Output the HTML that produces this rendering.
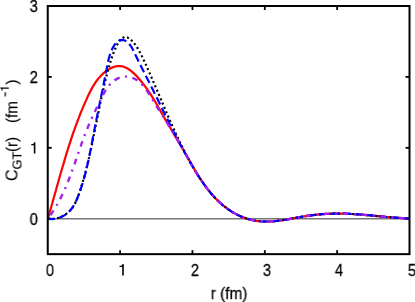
<!DOCTYPE html>
<html><head><meta charset="utf-8"><style>
html,body{margin:0;padding:0;background:#fff;}
body{width:415px;height:302px;position:relative;overflow:hidden;font-family:"Liberation Sans",sans-serif;}
.t{-webkit-text-stroke:0.3px #000;will-change:transform;position:absolute;font-size:16px;line-height:18px;color:#000;white-space:nowrap;}
.n{transform:scaleX(0.9);}
.yl{-webkit-text-stroke:0.15px #000;left:17.5px;top:181px;transform-origin:0 0;transform:rotate(-90deg) translate(0,-14.5px);line-height:18px;}
.sp{display:inline-block;}
.sc{display:inline-block;transform:scaleX(0.95);transform-origin:0 50%;}
.sub{font-size:12.8px;position:relative;top:4px;}
.sup{font-size:12.8px;position:relative;top:-8.9px;}
</style></head><body>
<svg width="415" height="302" viewBox="0 0 415 302" style="position:absolute;left:0;top:0">
<line x1="47.75" y1="218.75" x2="409.5" y2="218.75" stroke="#777" stroke-width="1.3"/>
<line x1="120.10" y1="254.15" x2="120.10" y2="250.15" stroke="#000" stroke-width="1.8"/>
<line x1="120.10" y1="6.0" x2="120.10" y2="10.0" stroke="#000" stroke-width="1.8"/>
<line x1="192.45" y1="254.15" x2="192.45" y2="250.15" stroke="#000" stroke-width="1.8"/>
<line x1="192.45" y1="6.0" x2="192.45" y2="10.0" stroke="#000" stroke-width="1.8"/>
<line x1="264.80" y1="254.15" x2="264.80" y2="250.15" stroke="#000" stroke-width="1.8"/>
<line x1="264.80" y1="6.0" x2="264.80" y2="10.0" stroke="#000" stroke-width="1.8"/>
<line x1="337.15" y1="254.15" x2="337.15" y2="250.15" stroke="#000" stroke-width="1.8"/>
<line x1="337.15" y1="6.0" x2="337.15" y2="10.0" stroke="#000" stroke-width="1.8"/>
<line x1="47.75" y1="218.70" x2="51.75" y2="218.70" stroke="#000" stroke-width="1.8"/>
<line x1="409.5" y1="218.70" x2="405.5" y2="218.70" stroke="#000" stroke-width="1.8"/>
<line x1="47.75" y1="147.80" x2="51.75" y2="147.80" stroke="#000" stroke-width="1.8"/>
<line x1="409.5" y1="147.80" x2="405.5" y2="147.80" stroke="#000" stroke-width="1.8"/>
<line x1="47.75" y1="76.90" x2="51.75" y2="76.90" stroke="#000" stroke-width="1.8"/>
<line x1="409.5" y1="76.90" x2="405.5" y2="76.90" stroke="#000" stroke-width="1.8"/>
<path d="M47.7,218.7 L48.7,215.6 L49.6,212.5 L50.5,209.4 L51.4,206.3 L52.3,203.2 L53.1,200.1 L54.0,197.0 L54.9,193.9 L55.8,190.8 L56.6,187.7 L57.5,184.6 L58.4,181.5 L59.2,178.5 L60.1,175.4 L61.0,172.3 L61.9,169.2 L62.8,166.2 L63.7,163.1 L64.6,160.1 L65.5,157.0 L66.4,153.9 L67.4,150.9 L68.3,147.8 L69.3,144.8 L70.3,141.8 L71.3,138.7 L72.3,135.7 L73.3,132.7 L74.4,129.6 L75.5,126.6 L76.6,123.6 L77.7,120.6 L78.9,117.6 L80.0,114.6 L81.2,111.6 L82.5,108.6 L83.7,105.6 L85.0,102.6 L86.4,99.6 L87.7,96.6 L89.1,93.7 L90.6,90.8 L92.1,87.9 L93.8,85.1 L95.5,82.4 L97.4,79.8 L99.4,77.4 L101.6,75.0 L103.9,72.9 L106.4,70.9 L109.1,69.1 L112.0,67.6 L114.9,66.5 L117.9,66.0 L120.8,66.1 L123.7,66.8 L126.6,68.0 L129.3,69.6 L131.9,71.6 L134.4,73.9 L136.8,76.3 L139.1,78.9 L141.3,81.5 L143.4,84.2 L145.4,86.8 L147.3,89.4 L149.1,92.1 L150.8,94.7 L152.5,97.4 L154.2,100.1 L155.8,102.8 L157.4,105.5 L158.9,108.2 L160.5,110.9 L162.0,113.6 L163.6,116.3 L165.1,119.1 L166.7,121.8 L168.3,124.5 L169.9,127.3 L171.6,130.0 L173.2,132.8 L174.8,135.6 L176.5,138.4 L178.1,141.1 L179.8,143.9 L181.4,146.7 L183.1,149.5 L184.7,152.3 L186.4,155.2 L188.0,158.1 L189.7,161.0 L191.3,163.9 L192.9,166.8 L194.6,169.6 L196.2,172.4 L197.9,175.2 L199.6,177.8 L201.4,180.5 L203.2,183.1 L205.0,185.6 L206.8,188.1 L208.8,190.6 L210.8,193.0 L212.8,195.4 L214.9,197.8 L217.1,200.0 L219.4,202.2 L221.8,204.4 L224.3,206.4 L226.9,208.4 L229.5,210.2 L232.3,212.0 L235.1,213.6 L237.9,215.1 L240.9,216.4 L243.8,217.6 L246.9,218.6 L249.9,219.5 L253.0,220.2 L256.1,220.8 L259.3,221.2 L262.4,221.4 L265.6,221.5 L268.8,221.5 L271.9,221.3 L275.1,221.1 L278.3,220.7 L281.5,220.3 L284.7,219.8 L287.8,219.3 L291.0,218.7 L294.2,218.1 L297.4,217.6 L300.6,217.0 L303.8,216.4 L307.0,215.9 L310.2,215.5 L313.4,215.1 L316.6,214.7 L319.8,214.4 L323.0,214.1 L326.2,213.9 L329.4,213.8 L332.6,213.6 L335.8,213.6 L339.0,213.6 L342.2,213.6 L345.4,213.7 L348.6,213.8 L351.8,214.0 L355.0,214.2 L358.2,214.4 L361.4,214.6 L364.6,214.9 L367.8,215.2 L371.0,215.5 L374.2,215.8 L377.4,216.1 L380.6,216.4 L383.8,216.7 L387.1,217.0 L390.3,217.2 L393.5,217.5 L396.7,217.7 L399.9,218.0 L403.1,218.1 L406.3,218.3 L409.5,218.4" fill="none" stroke="#ff0000" stroke-width="2.2"/>
<path d="M47.7,218.7 L51.4,218.9 L55.0,218.6 L58.4,217.8 L61.7,216.6 L64.8,214.9 L67.6,212.9 L70.1,210.5 L72.3,207.9 L74.2,205.0 L75.8,201.9 L77.3,198.7 L78.5,195.4 L79.7,192.0 L80.8,188.5 L81.8,185.1 L82.8,181.6 L83.8,178.2 L84.8,174.7 L85.7,171.3 L86.6,167.8 L87.4,164.4 L88.2,160.9 L89.1,157.5 L89.8,154.0 L90.6,150.5 L91.4,147.1 L92.1,143.6 L92.8,140.2 L93.5,136.7 L94.2,133.3 L94.9,129.8 L95.6,126.3 L96.3,122.9 L97.0,119.4 L97.7,116.0 L98.4,112.5 L99.1,109.1 L99.8,105.6 L100.5,102.2 L101.2,98.7 L102.0,95.3 L102.7,91.8 L103.5,88.4 L104.3,85.0 L105.1,81.5 L105.9,78.1 L106.8,74.7 L107.7,71.2 L108.7,67.8 L109.7,64.4 L110.7,61.0 L111.8,57.6 L113.0,54.2 L114.3,50.8 L115.8,47.4 L117.5,44.1 L119.4,41.0 L121.7,38.4 L124.4,37.1 L127.4,37.5 L130.3,39.2 L132.9,41.7 L135.2,44.7 L137.3,47.7 L139.1,50.8 L140.8,53.9 L142.3,57.0 L143.8,60.2 L145.3,63.3 L146.7,66.5 L148.1,69.7 L149.5,72.9 L150.9,76.1 L152.3,79.3 L153.7,82.6 L155.1,85.8 L156.5,89.1 L157.9,92.3 L159.3,95.6 L160.7,98.9 L162.1,102.2 L163.5,105.5 L164.9,108.8 L166.3,112.1 L167.7,115.3 L169.1,118.6 L170.5,121.9 L172.0,125.2 L173.5,128.5 L175.0,131.8 L176.5,135.0 L178.0,138.2 L179.5,141.5 L181.1,144.7 L182.7,147.9 L184.3,151.1 L185.9,154.3 L187.6,157.4 L189.3,160.5 L191.0,163.6 L192.8,166.6 L194.6,169.7 L196.4,172.7 L198.3,175.7 L200.2,178.7 L202.1,181.6 L204.2,184.5 L206.2,187.3 L208.4,190.1 L210.6,192.9 L212.9,195.5 L215.3,198.1 L217.8,200.6 L220.3,203.0 L223.0,205.4 L225.8,207.5 L228.6,209.6 L231.6,211.5 L234.6,213.3 L237.7,214.9 L240.9,216.4 L244.1,217.7 L247.5,218.8 L250.8,219.8 L254.3,220.5 L257.7,221.0 L261.2,221.3 L264.8,221.5 L268.3,221.5 L271.8,221.3 L275.4,221.0 L278.9,220.6 L282.4,220.2 L285.9,219.6 L289.5,219.0 L293.0,218.4 L296.5,217.7 L300.0,217.1 L303.6,216.5 L307.1,215.9 L310.6,215.4 L314.1,215.0 L317.7,214.6 L321.2,214.3 L324.7,214.0 L328.2,213.8 L331.8,213.7 L335.3,213.6 L338.8,213.6 L342.3,213.6 L345.8,213.7 L349.4,213.9 L352.9,214.0 L356.4,214.3 L360.0,214.5 L363.5,214.8 L367.0,215.1 L370.5,215.4 L374.1,215.8 L377.6,216.1 L381.2,216.4 L384.7,216.8 L388.2,217.1 L391.8,217.4 L395.3,217.6 L398.9,217.9 L402.4,218.1 L405.9,218.3 L409.5,218.4" fill="none" stroke="#000" stroke-width="2.2" stroke-dasharray="2 2.7"/>
<path d="M47.7,218.7 L51.3,219.1 L54.9,218.8 L58.4,218.1 L61.7,216.8 L64.8,215.1 L67.6,213.0 L70.0,210.7 L72.1,208.0 L74.0,205.1 L75.6,202.0 L77.1,198.7 L78.4,195.4 L79.7,192.1 L80.8,188.7 L81.9,185.4 L83.0,182.0 L84.0,178.6 L84.9,175.2 L85.8,171.9 L86.6,168.5 L87.4,165.0 L88.2,161.6 L88.9,158.2 L89.6,154.8 L90.3,151.3 L91.0,147.9 L91.6,144.4 L92.3,141.0 L92.9,137.5 L93.6,134.1 L94.3,130.6 L94.9,127.2 L95.6,123.7 L96.3,120.2 L97.0,116.8 L97.7,113.3 L98.4,109.8 L99.1,106.4 L99.8,102.9 L100.5,99.5 L101.2,96.0 L102.0,92.6 L102.7,89.1 L103.4,85.7 L104.0,82.2 L104.7,78.8 L105.4,75.4 L106.0,72.0 L106.7,68.6 L107.3,65.2 L108.0,61.7 L108.9,58.3 L109.9,54.8 L111.2,51.2 L112.8,47.8 L114.7,44.6 L116.9,42.0 L119.5,40.4 L122.4,39.9 L125.4,40.8 L128.1,42.7 L130.3,45.2 L132.2,48.3 L133.9,51.6 L135.5,55.0 L137.1,58.2 L138.6,61.5 L140.2,64.7 L141.8,67.8 L143.4,71.0 L145.0,74.1 L146.5,77.2 L148.1,80.3 L149.7,83.4 L151.2,86.5 L152.8,89.6 L154.3,92.7 L155.9,95.9 L157.5,99.0 L159.0,102.2 L160.6,105.3 L162.1,108.5 L163.7,111.7 L165.2,114.9 L166.8,118.0 L168.4,121.2 L170.0,124.4 L171.6,127.5 L173.2,130.7 L174.8,133.8 L176.4,137.0 L178.0,140.1 L179.6,143.2 L181.3,146.4 L182.9,149.5 L184.6,152.5 L186.3,155.5 L188.0,158.6 L189.8,161.6 L191.6,164.6 L193.4,167.7 L195.2,170.8 L197.1,173.9 L199.0,176.9 L201.0,179.9 L203.1,182.9 L205.1,185.8 L207.3,188.7 L209.5,191.5 L211.8,194.2 L214.1,196.8 L216.5,199.4 L219.0,201.8 L221.5,204.1 L224.2,206.3 L226.9,208.4 L229.7,210.3 L232.6,212.2 L235.6,213.9 L238.7,215.4 L241.8,216.8 L245.1,218.0 L248.4,219.1 L251.7,220.0 L255.1,220.6 L258.6,221.1 L262.0,221.4 L265.5,221.5 L269.1,221.4 L272.6,221.3 L276.2,221.0 L279.7,220.5 L283.3,220.0 L286.8,219.5 L290.3,218.8 L293.9,218.2 L297.4,217.6 L300.9,216.9 L304.4,216.3 L307.9,215.8 L311.4,215.3 L314.9,214.9 L318.4,214.5 L321.9,214.2 L325.4,214.0 L328.9,213.8 L332.4,213.7 L335.8,213.6 L339.3,213.6 L342.8,213.6 L346.3,213.7 L349.8,213.9 L353.3,214.1 L356.7,214.3 L360.2,214.5 L363.7,214.8 L367.2,215.1 L370.7,215.4 L374.2,215.8 L377.7,216.1 L381.2,216.4 L384.7,216.8 L388.2,217.1 L391.8,217.4 L395.3,217.6 L398.8,217.9 L402.4,218.1 L405.9,218.3 L409.5,218.4" fill="none" stroke="#0000ff" stroke-width="2.2" stroke-dasharray="8.1 3.9" stroke-dashoffset="0.7"/>
<path d="M47.8,218.7 L49.6,216.3 L51.4,213.8 L53.1,211.2 L54.7,208.6 L56.3,206.0 L57.9,203.3 L59.3,200.6 L60.7,197.9 L62.1,195.1 L63.4,192.3 L64.7,189.5 L65.9,186.7 L67.1,183.8 L68.3,180.9 L69.4,178.0 L70.5,175.1 L71.6,172.1 L72.7,169.2 L73.7,166.3 L74.8,163.3 L75.8,160.3 L76.8,157.4 L77.8,154.4 L78.8,151.5 L79.8,148.5 L80.9,145.6 L81.9,142.7 L83.0,139.8 L84.0,136.9 L85.1,134.0 L86.2,131.2 L87.4,128.4 L88.5,125.6 L89.7,122.8 L90.9,120.0 L92.2,117.3 L93.5,114.5 L94.8,111.7 L96.1,109.0 L97.4,106.2 L98.8,103.3 L100.2,100.5 L101.6,97.6 L103.1,94.7 L104.7,91.8 L106.4,89.1 L108.2,86.5 L110.2,84.1 L112.4,82.0 L114.8,80.1 L117.4,78.6 L120.2,77.5 L123.1,76.8 L126.0,76.6 L128.9,76.8 L131.8,77.5 L134.5,78.7 L137.0,80.2 L139.4,82.0 L141.6,84.0 L143.6,86.3 L145.5,88.8 L147.4,91.4 L149.1,94.1 L150.9,96.8 L152.6,99.6 L154.2,102.3 L155.9,105.1 L157.6,107.8 L159.3,110.4 L160.9,113.1 L162.6,115.7 L164.3,118.3 L165.9,120.9 L167.6,123.5 L169.2,126.1 L170.8,128.7 L172.4,131.3 L174.0,133.9 L175.6,136.5 L177.2,139.2 L178.7,141.8 L180.3,144.4 L181.8,147.1 L183.3,149.8 L184.8,152.5 L186.4,155.2 L187.9,157.9 L189.4,160.6 L190.9,163.4 L192.5,166.1 L194.0,168.7 L195.6,171.4 L197.2,174.0 L198.9,176.6 L200.6,179.2 L202.3,181.8 L204.0,184.3 L205.9,186.8 L207.7,189.3 L209.6,191.7 L211.6,194.1 L213.7,196.4 L215.8,198.7 L218.0,200.9 L220.3,203.0 L222.7,205.1 L225.1,207.0 L227.6,208.9 L230.2,210.6 L232.8,212.3 L235.5,213.8 L238.2,215.2 L241.0,216.5 L243.9,217.6 L246.7,218.6 L249.7,219.5 L252.6,220.1 L255.6,220.7 L258.6,221.1 L261.6,221.3 L264.6,221.5 L267.7,221.5 L270.7,221.4 L273.8,221.2 L276.8,220.9 L279.9,220.5 L283.0,220.1 L286.1,219.6 L289.1,219.1 L292.2,218.5 L295.3,217.9 L298.4,217.4 L301.5,216.8 L304.6,216.3 L307.7,215.8 L310.8,215.4 L313.9,215.0 L317.0,214.7 L320.1,214.4 L323.1,214.1 L326.2,213.9 L329.3,213.8 L332.4,213.7 L335.5,213.6 L338.6,213.6 L341.6,213.6 L344.7,213.7 L347.8,213.8 L350.9,213.9 L353.9,214.1 L357.0,214.3 L360.1,214.5 L363.2,214.8 L366.3,215.0 L369.3,215.3 L372.4,215.6 L375.5,215.9 L378.6,216.2 L381.7,216.5 L384.7,216.8 L387.8,217.0 L390.9,217.3 L394.0,217.6 L397.1,217.8 L400.2,218.0 L403.3,218.2 L406.4,218.3 L409.5,218.4" fill="none" stroke="#a020f0" stroke-width="2.4" stroke-dasharray="5.8 5.5 2 5.5" stroke-dashoffset="14.5"/>
<rect x="47.75" y="6.0" width="361.75" height="248.15" fill="none" stroke="#000" stroke-width="2"/>
<path  d="M123.80,275.40 V264.00 H122.65 C122.40,265.20 121.40,265.95 119.50,266.05 V267.10 H122.20 V275.40 Z" fill="#000"/>
<path  d="M35.40,153.45 V142.15 H34.26 C34.01,143.34 33.02,144.08 31.14,144.18 V145.22 H33.81 V153.45 Z" fill="#000"/>
<path transform="translate(8.8,87.5) rotate(-90)" d="M0.00,0.00 V-8.60 H-0.87 C-1.06,-7.69 -1.81,-7.13 -3.24,-7.05 V-6.26 H-1.21 V0.00 Z" fill="#000"/>
</svg>
<div class="t n" style="left:30.05px;top:262px;width:40px;text-align:center">0</div>
<div class="t n" style="left:174.75px;top:262px;width:40px;text-align:center">2</div>
<div class="t n" style="left:247.10px;top:262px;width:40px;text-align:center">3</div>
<div class="t n" style="left:319.45px;top:262px;width:40px;text-align:center">4</div>
<div class="t n" style="left:391.80px;top:262px;width:40px;text-align:center">5</div>
<div class="t n" style="left:0;width:38.0px;top:210.70px;text-align:right;transform-origin:100% 50%;transform:scaleX(0.93)">0</div>
<div class="t n" style="left:0;width:38.0px;top:68.90px;text-align:right;transform-origin:100% 50%;transform:scaleX(0.93)">2</div>
<div class="t n" style="left:0;width:38.0px;top:-2.00px;text-align:right;transform-origin:100% 50%;transform:scaleX(0.93)">3</div>
<div class="t" style="left:178.6px;width:100px;top:284.7px;text-align:center;transform:scaleX(0.965)">r (fm)</div>
<div class="t yl">C<span class="sub">GT</span><span class="sc" style="transform:scaleX(0.95)">(r)</span><span class="sp" style="width:12.5px"></span><span class="sc">(fm</span><span class="sp" style="width:3.2px"></span><span class="sup" style="display:inline-block;transform:scaleX(1.25);transform-origin:0 50%">-</span><span class="sp" style="width:7.8px"></span>)</div>
</body></html>
